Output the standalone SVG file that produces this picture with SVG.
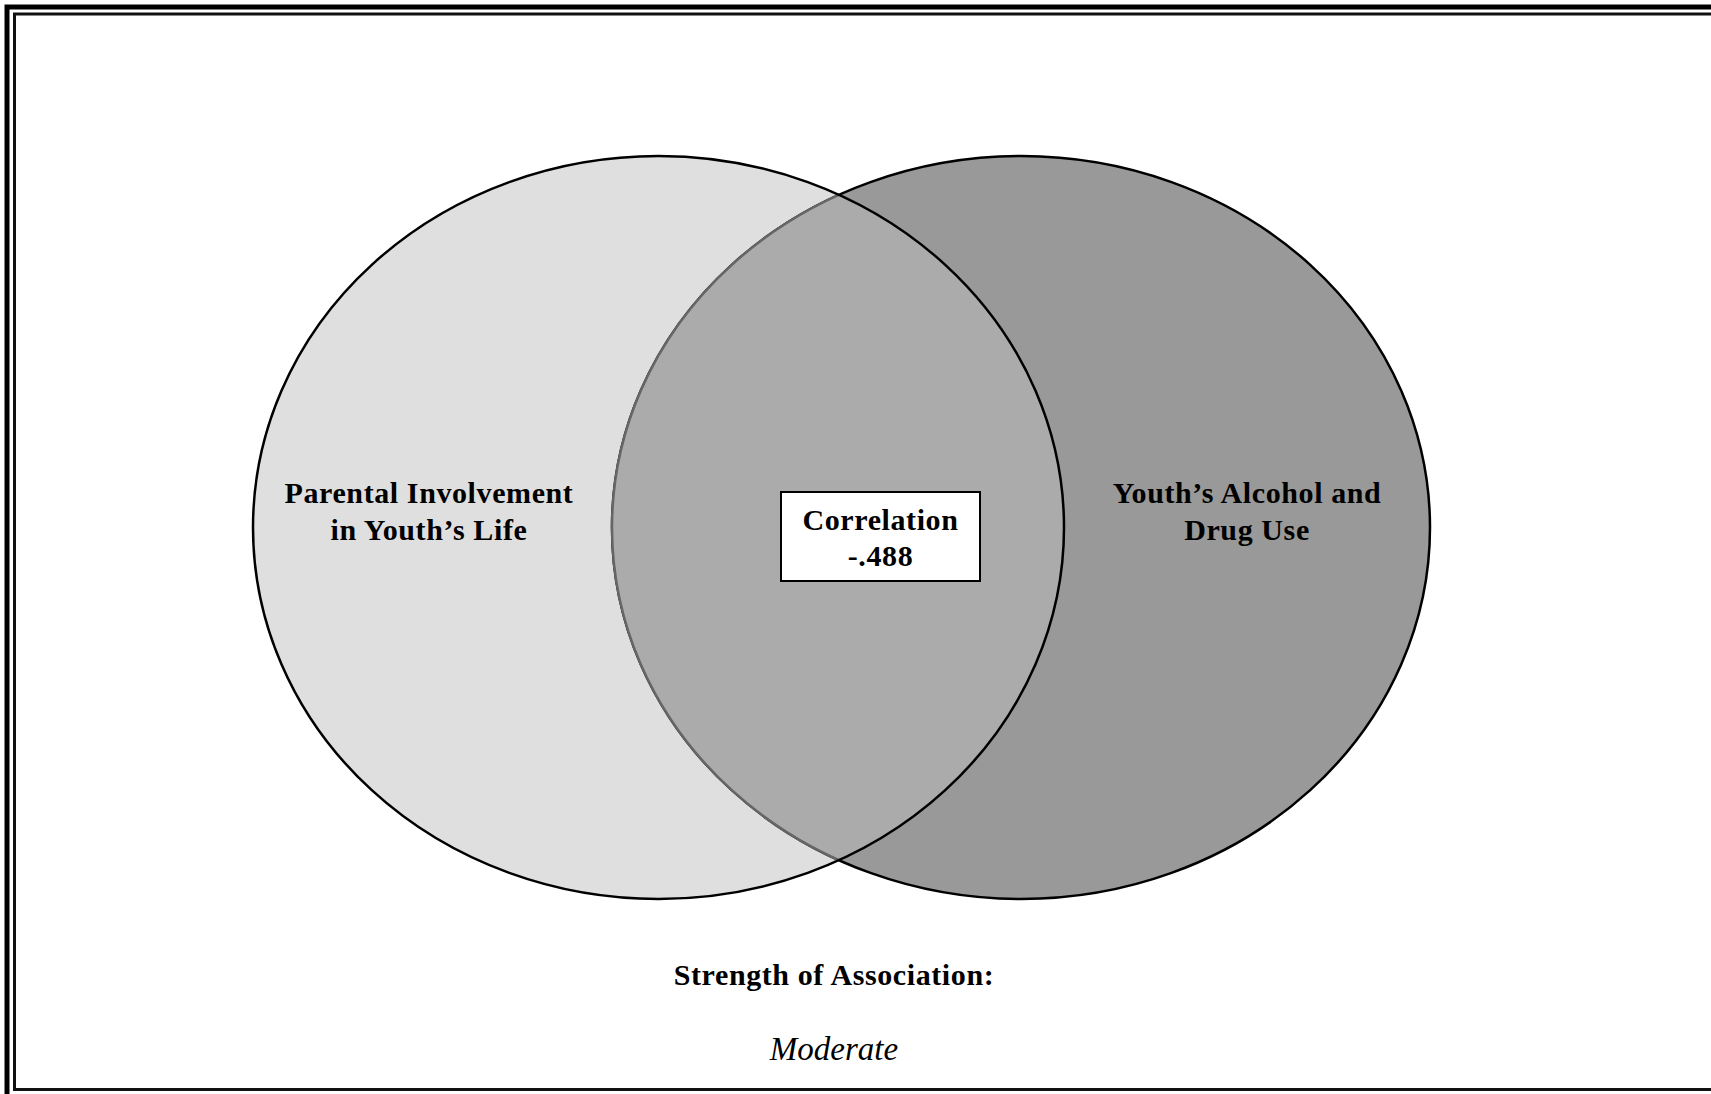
<svg xmlns="http://www.w3.org/2000/svg" width="1711" height="1094" viewBox="0 0 1711 1094">
  <style>
    .lbl { font-family: "Liberation Serif", "Times New Roman", serif; font-weight: bold; font-size: 30px; letter-spacing: 0.6px; fill: #000; text-anchor: middle; }
    .ital { font-family: "Liberation Serif", "Times New Roman", serif; font-style: italic; font-size: 33px; fill: #000; text-anchor: middle; }
    .circ { stroke: #000; stroke-width: 2.5; }
  </style>
  <defs>
    <clipPath id="clipLeft">
      <ellipse cx="658.5" cy="527.5" rx="405.5" ry="371.5"/>
    </clipPath>
  </defs>
  <rect x="0" y="0" width="1711" height="1094" fill="#fff"/>
  <g id="frame" fill="none">
    <rect x="7" y="7" width="1720" height="1100" stroke="#000" stroke-width="5"/>
    <rect x="14.5" y="14" width="1710" height="1075.5" stroke="#111" stroke-width="3"/>
  </g>
  <g id="parental-involvement">
    <ellipse cx="658.5" cy="527.5" rx="405.5" ry="371.5" fill="#dfdfdf"/>
  </g>
  <g id="youth-alcohol-drug-use">
    <ellipse class="circ" cx="1021" cy="527.5" rx="409" ry="371.5" fill="#999999"/>
    <ellipse cx="1021" cy="527.5" rx="409" ry="371.5" fill="#ababab" stroke="#666" stroke-width="2.5" clip-path="url(#clipLeft)"/>
  </g>
  <g id="parental-outline">
    <ellipse class="circ" cx="658.5" cy="527.5" rx="405.5" ry="371.5" fill="none"/>
    <text class="lbl" x="429" y="503">Parental Involvement</text>
    <text class="lbl" x="429" y="540">in Youth’s Life</text>
  </g>
  <g id="youth-label">
    <text class="lbl" x="1247" y="503">Youth’s Alcohol and</text>
    <text class="lbl" x="1247" y="540">Drug Use</text>
  </g>
  <g id="correlation">
    <rect x="781" y="492" width="199" height="89" fill="#fff" stroke="#000" stroke-width="2"/>
    <text class="lbl" x="880.5" y="530">Correlation</text>
    <text class="lbl" x="880.5" y="566">-.488</text>
  </g>
  <g id="connectors"/>
  <g id="strength">
    <text class="lbl" x="834" y="985">Strength of Association:</text>
    <text class="ital" x="834" y="1060">Moderate</text>
  </g>
</svg>
